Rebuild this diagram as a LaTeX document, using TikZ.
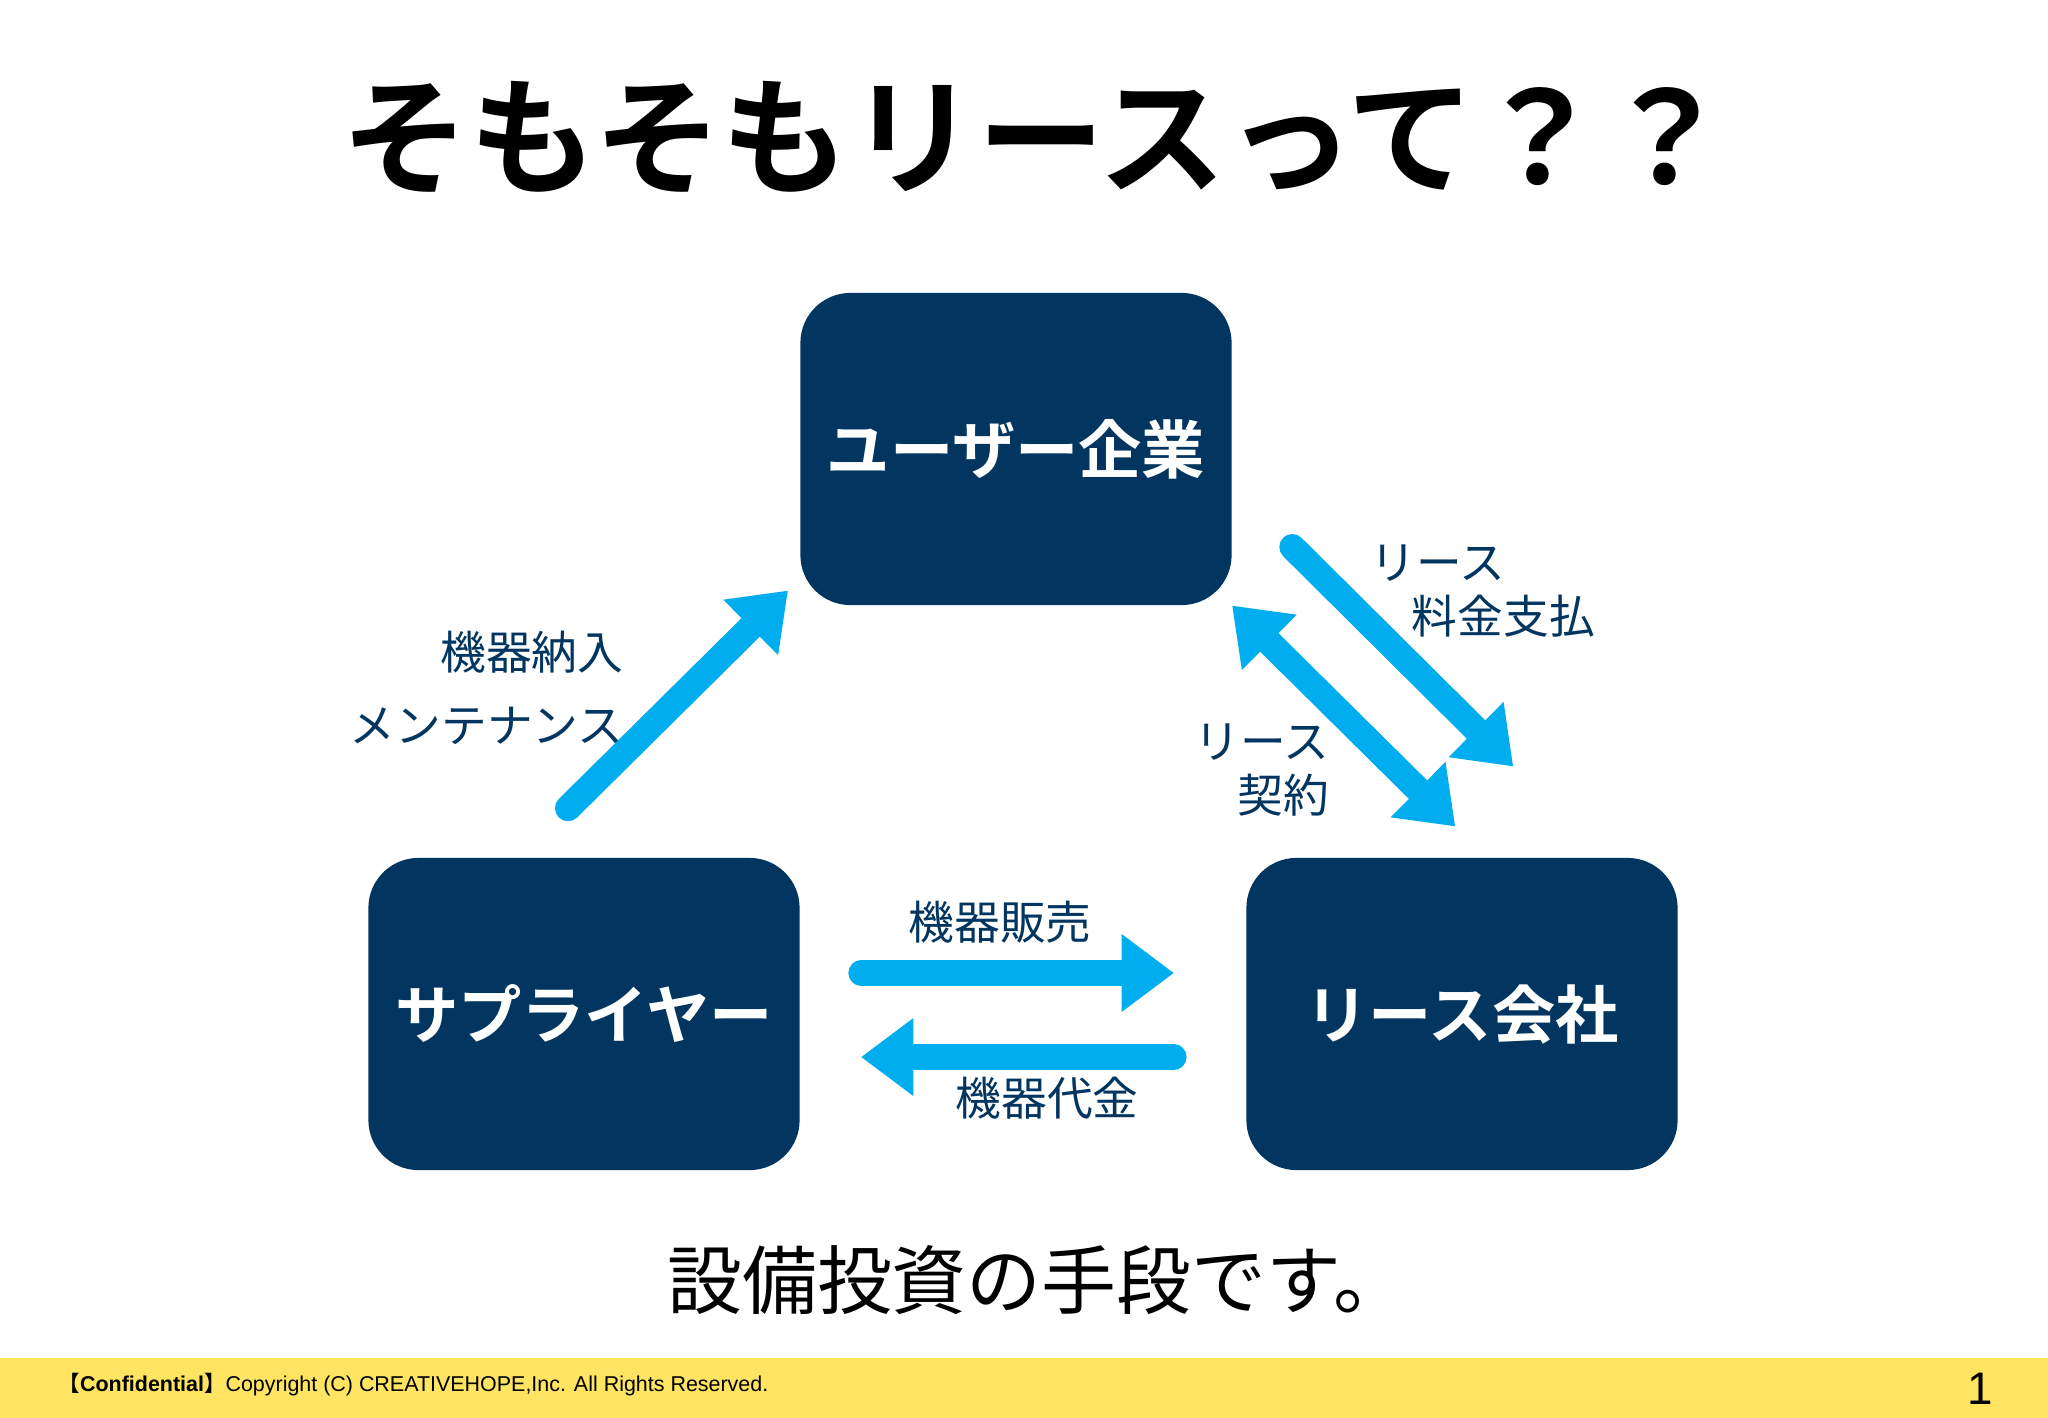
\documentclass[tikz,border=0pt]{standalone}
\usepackage{fontspec}
\setmainfont{Noto Sans CJK JP}[BoldFont={Noto Sans CJK JP Bold}]
\newfontfamily\footfont{Liberation Sans}
\usepackage{tikz}
\usetikzlibrary{arrows.meta,calc}
\usepackage{xcolor}
\definecolor{deepnavy}{HTML}{023660}
\definecolor{skycyan}{HTML}{00AEEF}
\definecolor{bandyellow}{HTML}{FFE462}

\begin{document}
\begin{tikzpicture}[x=0.01cm,y=-0.01cm,
  party/.style={fill=deepnavy,rounded corners=0.5cm,minimum width=4.31cm,minimum height=3.12cm,
                inner sep=0pt,text=white,font=\rmfamily\fontsize{18}{20}\selectfont\bfseries},
  flow/.style={skycyan,line width=0.26cm,line cap=round,
               -{Triangle[width=0.78cm,length=0.52cm,line width=0pt]}},
  twoway/.style={flow,{Triangle[width=0.78cm,length=0.52cm,line width=0pt]}-{Triangle[width=0.78cm,length=0.52cm,line width=0pt]}},
  tag/.style={text=deepnavy,inner sep=0pt,font=\rmfamily\fontsize{13}{15.5}\selectfont}]
  \useasboundingbox (0,0) rectangle (2048,1418);
  \fill[white] (0,0) rectangle (2048,1418);

  \node[font=\rmfamily\fontsize{36.3}{40}\selectfont\bfseries] (title) at (1036,137) {そもそもリースって？？};

  \foreach \nm/\px/\py/\txt in {user/1016/449/ユーザー企業,
                                supplier/584/1014/サプライヤー,
                                lease/1462/1014/リース会社}
    \node[party] (\nm) at (\px,\py) {\txt};

  \coordinate (inTail) at ($(supplier.north)+(-16,-49)$);
  \coordinate (inTip) at ($(user.south west)+(-12,-15)$);
  \coordinate (feeTail) at ($(user.east)+(60,98)$);
  \coordinate (feeTip) at ($(lease.north)+(51,-91)$);
  \coordinate (dealTip) at ($(lease.north)+(-7,-31)$);

  \draw[flow] (inTail) -- (inTip);
  \draw[flow] (feeTail) -- (feeTip);
  \draw[twoway] (user.south east) -- (dealTip);
  \draw[flow,shorten <=0.61cm,shorten >=0.72cm] ([yshift=0.41cm]supplier.east) -- ([yshift=0.41cm]lease.west);
  \draw[flow,shorten <=0.72cm,shorten >=0.61cm] ([yshift=-0.43cm]lease.west) -- ([yshift=-0.43cm]supplier.east);

  \node[tag,align=right,anchor=east,font=\rmfamily\fontsize{13}{20.7}\selectfont] (inLbl) at (624,688) {機器納入\\メンテナンス};
  \node[tag,align=left,anchor=west] (feeLbl) at (1370,591) {リース\\\hspace*{0.9em}料金支払};
  \node[tag,align=right,anchor=east] (dealLbl) at (1330,770) {リース\\契約};
  \node[tag] (saleLbl) at (1000,922) {機器販売};
  \node[tag] (payLbl) at (1047,1098) {機器代金};

  \node[font=\rmfamily\fontsize{21.3}{25}\selectfont] (motto) at (1038,1280) {設備投資の手段です。};

  \fill[bandyellow] (0,1358) rectangle (2048,1418);
  \node[anchor=west,inner sep=0pt,font=\footfont\fontsize{6.1}{7}\selectfont] (credit) at (58,1385)
    {{\rmfamily\bfseries 【}{\bfseries Confidential}{\rmfamily\bfseries 】}Copyright (C) CREATIVEHOPE,Inc. All Rights Reserved.};
  \node[font=\footfont\fontsize{13}{15}\selectfont] (pageno) at (1980,1389) {1};
\end{tikzpicture}
\end{document}
